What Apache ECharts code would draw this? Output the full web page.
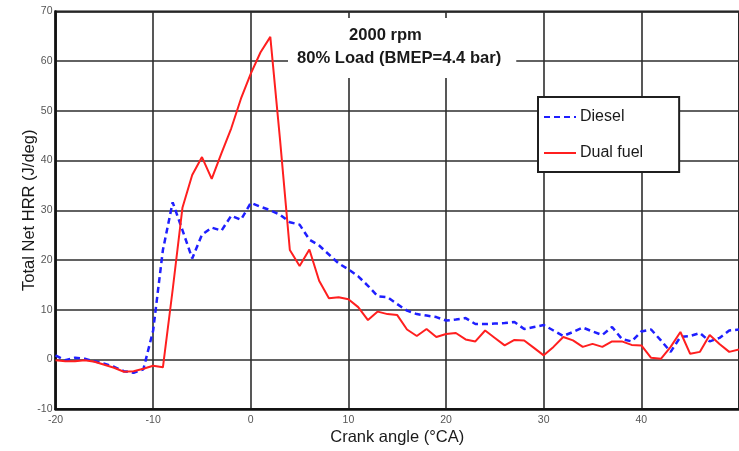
<!DOCTYPE html>
<html>
<head>
<meta charset="utf-8">
<script src="https://cdn.jsdelivr.net/npm/echarts@6/dist/echarts.min.js"></script>
<style>
  html, body { margin: 0; padding: 0; background: #fff; }
  #chart { width: 739px; height: 451px; }
</style>
</head>
<body>
<div id="chart"></div>
<script>
// Crank angle in degrees, one sample per degree
const crankAngle = [
  -20, -19, -18, -17, -16, -15, -14, -13, -12, -11,
  -10, -9, -8, -7, -6, -5, -4, -3, -2, -1,
  0, 1, 2, 3, 4, 5, 6, 7, 8, 9,
  10, 11, 12, 13, 14, 15, 16, 17, 18, 19,
  20, 21, 22, 23, 24, 25, 26, 27, 28, 29,
  30, 31, 32, 33, 34, 35, 36, 37, 38, 39,
  40, 41, 42, 43, 44, 45, 46, 47, 48, 49,
  50
];

// Total net heat release rate, J/deg
const dieselHRR = [
  0.8, -0.2, 0.3, 0.1, -0.4, -0.9, -1.5, -2.4, -2.7, -2.0,
  5.8, 22.0, 31.6, 26.0, 20.3, 25.1, 26.5, 25.9, 28.9, 28.1,
  31.5, 30.7, 30.0, 29.1, 27.6, 27.1, 24.1, 22.9, 21.1, 19.3,
  18.1, 16.7, 14.8, 12.7, 12.5, 11.1, 9.8, 9.1, 8.8, 8.5,
  7.8, 8.0, 8.3, 7.1, 7.1, 7.2, 7.3, 7.5, 6.1, 6.5,
  6.9, 5.8, 4.7, 5.5, 6.4, 5.6, 4.9, 6.5, 4.1, 3.6,
  5.6, 6.0, 3.8, 1.5, 4.5, 4.7, 5.3, 3.6, 4.3, 5.8,
  6.0
];

const dualFuelHRR = [
  -0.2, -0.4, -0.4, -0.2, -0.5, -1.1, -1.7, -2.5, -2.4, -1.9,
  -1.3, -1.6, 14.0, 30.5, 37.1, 40.7, 36.3, 41.5, 46.5, 52.5,
  57.5, 61.8, 64.9, 44.1, 22.0, 18.8, 22.1, 15.8, 12.3, 12.5,
  12.1, 10.5, 7.9, 9.6, 9.1, 8.9, 6.0, 4.7, 6.1, 4.5,
  5.1, 5.3, 4.0, 3.6, 5.8, 4.3, 2.8, 3.9, 3.8, 2.3,
  0.8, 2.5, 4.5, 3.8, 2.5, 3.1, 2.5, 3.6, 3.6, 2.9,
  2.8, 0.3, 0.1, 2.5, 5.5, 1.1, 1.5, 4.9, 3.1, 1.5,
  2.0
];

const seriesNames = ['Diesel', 'Dual fuel'];
const titleLines = ['2000 rpm', '80% Load (BMEP=4.4 bar)'];

const pairs = (ys) => crankAngle.map((x, i) => [x, ys[i]]);

const FONT = "'Liberation Sans', Arial, sans-serif";
const gridLine = { show: true, lineStyle: { color: '#2e2e2e', width: 1.6 } };

const chart = echarts.init(document.getElementById('chart'), null, { renderer: 'canvas' });

chart.setOption({
  backgroundColor: '#ffffff',
  animation: false,
  title: [
    {
      text: titleLines[1],
      left: 288,
      top: 18,
      padding: [32, 15, 11, 9],
      backgroundColor: '#ffffff',
      textStyle: { fontFamily: FONT, fontSize: 16.6, fontWeight: 'bold', color: '#1a1a1a', lineHeight: 17 }
    },
    {
      text: titleLines[0],
      left: 349,
      top: 27,
      padding: 0,
      z: 10,
      textStyle: { fontFamily: FONT, fontSize: 16.6, fontWeight: 'bold', color: '#1a1a1a', lineHeight: 17 }
    }
  ],
  legend: {
    data: seriesNames,
    orient: 'vertical',
    left: 538,
    top: 97,
    padding: [12, 36, 11, 5],
    itemWidth: 32,
    itemHeight: 16,
    itemGap: 20,
    itemStyle: { opacity: 0 },
    backgroundColor: '#ffffff',
    borderColor: '#1f1f1f',
    borderWidth: 2,
    borderRadius: 0,
    textStyle: { fontFamily: FONT, fontSize: 16, color: '#1a1a1a', lineHeight: 16, padding: [0, 0, 0, -1] }
  },
  grid: {
    left: 55.5,
    top: 11.5,
    right: -7,
    bottom: 40.3,
    show: true,
    borderColor: '#111',
    borderWidth: 2,
    backgroundColor: '#ffffff'
  },
  xAxis: {
    type: 'value',
    min: -20,
    max: 50,
    interval: 10,
    name: 'Crank angle (°CA)',
    nameLocation: 'middle',
    nameGap: 20,
    nameMoveOverlap: false,
    nameTextStyle: { fontFamily: FONT, fontSize: 16.5, color: '#1a1a1a' },
    axisLine: { show: true, onZero: false, lineStyle: { color: '#111', width: 2.5 } },
    axisTick: { show: false },
    axisLabel: { fontFamily: FONT, fontSize: 10.5, color: '#555', margin: 6, showMaxLabel: false },
    splitLine: gridLine
  },
  yAxis: {
    type: 'value',
    min: -10,
    max: 70,
    interval: 10,
    name: 'Total Net HRR (J/deg)',
    nameLocation: 'middle',
    nameGap: 18,
    nameMoveOverlap: false,
    nameTextStyle: { fontFamily: FONT, fontSize: 16.5, color: '#1a1a1a' },
    axisLine: { show: true, onZero: false, lineStyle: { color: '#111', width: 2.5 } },
    axisTick: { show: false },
    axisLabel: { fontFamily: FONT, fontSize: 10.5, color: '#555', margin: 3 },
    splitLine: gridLine
  },
  series: [
    {
      name: seriesNames[0],
      type: 'line',
      data: pairs(dieselHRR),
      symbol: 'none',
      z: 3,
      lineStyle: { color: '#1f1fff', width: 2.5, type: [6, 4] },
      itemStyle: { color: '#1f1fff' }
    },
    {
      name: seriesNames[1],
      type: 'line',
      data: pairs(dualFuelHRR),
      symbol: 'none',
      z: 4,
      lineStyle: { color: '#ff1f1f', width: 2 },
      itemStyle: { color: '#ff1f1f' }
    }
  ]
});
</script>
</body>
</html>
